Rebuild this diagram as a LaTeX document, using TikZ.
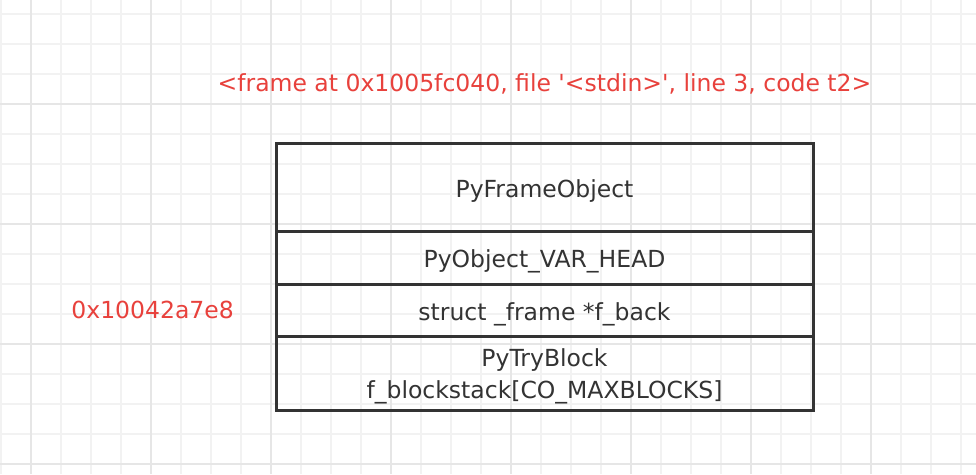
\documentclass[tikz,border=0pt]{standalone}
\usepackage{fontspec}
\setmainfont{DejaVu Sans}[Ligatures=TeXOff]
\usetikzlibrary{positioning}
\definecolor{gridMinor}{HTML}{F2F2F2}
\definecolor{gridMajor}{HTML}{E6E6E6}
\definecolor{addrRed}{HTML}{E8413C}
\definecolor{boxGray}{HTML}{333333}
\tikzset{
  fieldBox/.style={%
    draw=boxGray,
    line width=3pt,
    rectangle,
    minimum width=537pt,
    inner sep=0pt,
    outer sep=0pt,
    text height=20pt,
    text depth=0pt,
    align=center,
    text=boxGray,
    font=\fontsize{23.5}{32}\selectfont},
  addrText/.style={%
    inner sep=0pt,
    text=addrRed,
    font=\fontsize{23.5}{28}\selectfont},
  }

\begin{document}
\begin{tikzpicture}[x=1pt,y=-1pt]
  \useasboundingbox[fill=white] (0,0) rectangle (976,474);
  % grid
  \foreach \gx in {1,31,...,961} {
    \draw[gridMinor,line width=2pt] (\gx,0) -- (\gx,474);
  }
  \foreach \gy in {14,44,...,464} {
    \draw[gridMinor,line width=2pt] (0,\gy) -- (976,\gy);
  }
  \foreach \gx in {31,151,...,871} {
    \draw[gridMajor,line width=2pt] (\gx,0) -- (\gx,474);
  }
  \foreach \gy in {104,224,344,464} {
    \draw[gridMajor,line width=2pt] (0,\gy) -- (976,\gy);
  }
  % frame object
  \node[fieldBox,minimum height=88pt,anchor=north] (frame) at (544.5,143) {PyFrameObject};
  \node[fieldBox,minimum height=53pt,below=0pt of frame] (varhead) {PyObject\_VAR\_HEAD};
  \node[fieldBox,minimum height=52pt,below=0pt of varhead] (fback) {struct \_frame *f\_back};
  \node[fieldBox,text height={},text depth={},minimum height=74pt,below=0pt of fback] (blockstack)
    {\rule{0pt}{24pt}PyTryBlock\\f\_blockstack[CO\_MAXBLOCKS]};
  % addresses
  \node[addrText] (frameinfo) at (544.5,84) {<frame at 0x1005fc040, file '<stdin>', line 3, code t2>};
  \node[addrText,left=42pt of fback] (backaddr) {0x10042a7e8};
\end{tikzpicture}
\end{document}
